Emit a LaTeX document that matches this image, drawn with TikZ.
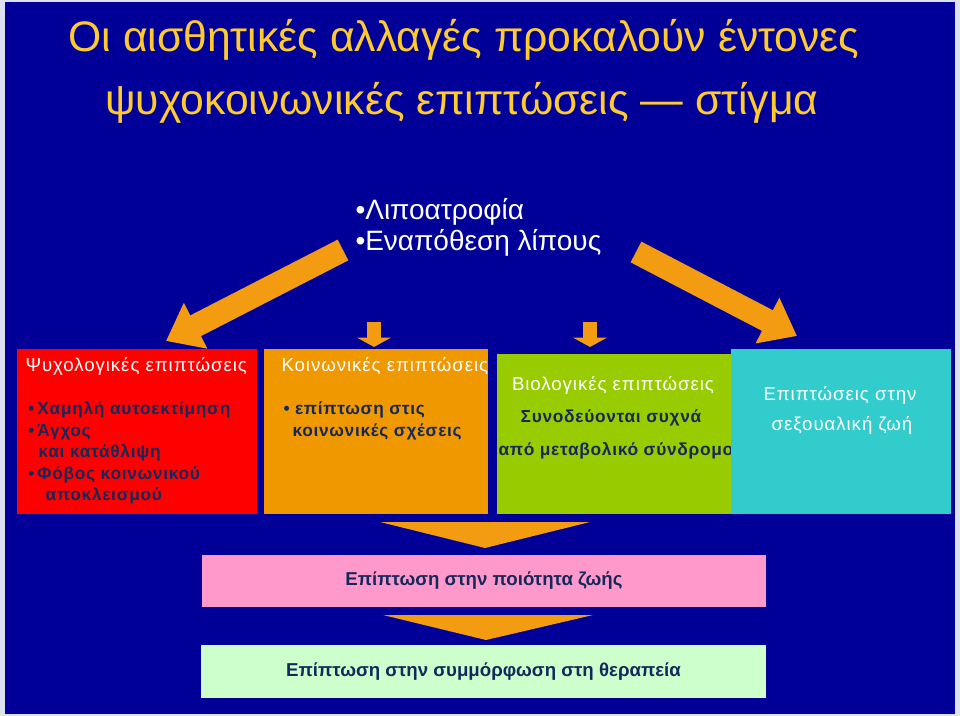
\documentclass[tikz,border=0pt]{standalone}
\usepackage{fontspec}
\setmainfont{Liberation Sans}
\newfontfamily\spacedfont[LetterSpace=5]{Liberation Sans}
\newfontfamily\itemfont[LetterSpace=4]{Liberation Sans}
\usetikzlibrary{arrows.meta}

\definecolor{frame}{RGB}{222,226,240}
\definecolor{bgblue}{RGB}{0,0,153}
\definecolor{gold}{RGB}{255,202,45}
\definecolor{arrorange}{RGB}{243,156,18}
\definecolor{boxred}{RGB}{255,0,0}
\definecolor{boxorange}{RGB}{240,152,0}
\definecolor{boxgreen}{RGB}{153,204,0}
\definecolor{boxcyan}{RGB}{51,204,204}
\definecolor{boxpink}{RGB}{255,153,204}
\definecolor{boxmint}{RGB}{204,255,204}
\definecolor{ink}{RGB}{20,40,90}

\tikzset{every picture/.style={line width=0.75pt}}

\begin{document}
\begin{tikzpicture}[x=0.75pt,y=0.75pt,yscale=-1,
  box/.style={anchor=north west,inner sep=0pt,outer sep=0pt},
  title/.style={text=gold,inner sep=0pt,font=\fontsize{32}{38}\selectfont},
  lead/.style={text=white,inner sep=0pt,anchor=west,font=\fontsize{21}{25}\selectfont},
  hdr/.style={text=white,inner sep=0pt,font=\spacedfont\fontsize{14}{17}\selectfont},
  item/.style={text=ink,inner sep=0pt,anchor=west,font=\itemfont\bfseries\fontsize{13}{16}\selectfont},
  band/.style={text=ink,inner sep=0pt,font=\bfseries\fontsize{14}{17}\selectfont},
  bigarrow/.style={draw=arrorange,line width=17.5pt,-{Triangle[length=25pt 0 0,width=37pt 0 0]}},
  smallarrow/.style={draw=arrorange,line width=11pt,-{Triangle[length=7pt 0 0,width=25pt 0 0]}}]
\useasboundingbox (0,0) rectangle (960,716);

%background
\fill [frame] (0,0) rectangle (960,716);
\fill [bgblue] (5,2) rectangle (955,714);

% Title
\node [title] (t1) at (464,40) {Οι αισθητικές αλλαγές προκαλούν έντονες};
\node [title] (t2) at (462,103) {ψυχοκοινωνικές επιπτώσεις — στίγμα};

% Text Node
\node [lead] (lipo1) at (355,212) {•Λιποατροφία};
\node [lead] (lipo2) at (355,243) {•Εναπόθεση λίπους};

% Boxes
\node [box,fill=boxred,minimum width=180pt,minimum height=123.75pt] (psy) at (17,349) {};
\node [box,fill=boxorange,minimum width=168pt,minimum height=123.75pt] (soc) at (264,349) {};
\node [box,fill=boxgreen,minimum width=175.5pt,minimum height=120pt] (bio) at (497,354) {};

% red box
\node [hdr,anchor=west] (psyH) at (25,366) {Ψυχολογικές επιπτώσεις};
\node [item] (psy1) at (28,410) {•\,Χαμηλή αυτοεκτίμηση};
\node [item] (psy2) at (28,432) {•\,Άγχος};
\node [item] (psy3) at (38,453) {και κατάθλιψη};
\node [item] (psy4) at (28,475) {•\,Φόβος κοινωνικού};
\node [item] (psy5) at (45,496) {αποκλεισμού};

% orange box
\node [hdr,anchor=west] (socH) at (281,366) {Κοινωνικές επιπτώσεις};
\node [item] (soc1) at (283,410) {•\ επίπτωση στις};
\node [item] (soc2) at (292,432) {κοινωνικές σχέσεις};

% green box
\node [hdr] (bioH) at (613,385) {Βιολογικές επιπτώσεις};
\node [item,anchor=center] (bio1) at (611,418) {Συνοδεύονται συχνά};
\node [item] (bio2) at (498,451) {από μεταβολικό σύνδρομο};

% cyan box
\node [box,fill=boxcyan,minimum width=165pt,minimum height=123.75pt] (sex) at (731,349) {};
\node [hdr] (sexH1) at (840,395) {Επιπτώσεις στην};
\node [hdr] (sexH2) at (842,425) {σεξουαλική ζωή};

% bottom boxes
\node [box,fill=boxpink,minimum width=423pt,minimum height=39pt] (qol) at (202,555) {};
\node [band] (qolT) at (qol.center) {Επίπτωση στην ποιότητα ζωής};
\node [box,fill=boxmint,minimum width=423.75pt,minimum height=39.75pt] (adh) at (201,645) {};
\node [band] (adhT) at (adh.center) {Επίπτωση στην συμμόρφωση στη θεραπεία};

% arrows
\coordinate (aL) at (343,250);
\coordinate (aLtip) at (166,341);
\coordinate (aR) at (636,252);
\coordinate (aRtip) at (797,336);
\draw [bigarrow] (aL) -- (aLtip);
\draw [bigarrow] (aR) -- (aRtip);
\coordinate (sA) at (374,322);
\coordinate (sAtip) at (374,347);
\coordinate (sB) at (590,322);
\coordinate (sBtip) at (590,347);
\draw [smallarrow] (sA) -- (sAtip);
\draw [smallarrow] (sB) -- (sBtip);

% funnels
\fill [arrorange] (380,522) -- (590,522) -- (485,548) -- cycle;
\fill [arrorange] (383,615) -- (593,615) -- (486,640) -- cycle;

\end{tikzpicture}
\end{document}
